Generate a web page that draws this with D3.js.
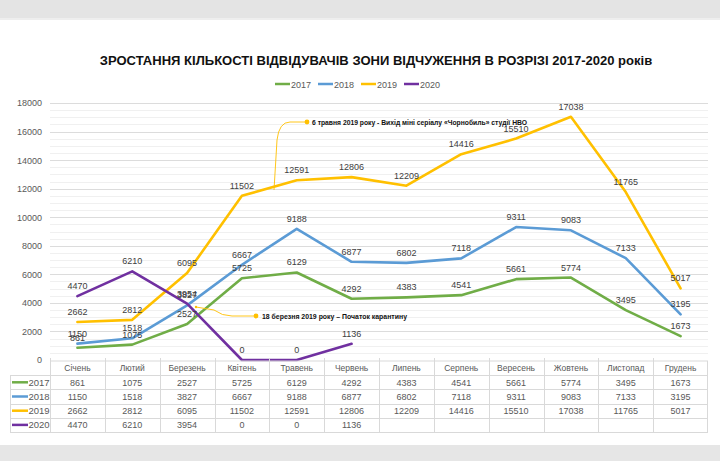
<!DOCTYPE html>
<html><head><meta charset="utf-8">
<script src="https://cdn.jsdelivr.net/npm/d3@7"></script>
<style>
html,body{margin:0;padding:0;background:#fff;}
svg{display:block;}
</style></head>
<body>
<svg id="c" width="720" height="461"></svg>
<script>
const months = ["Січень","Лютий","Березень","Квітень","Травень","Червень","Липень","Серпень","Вересень","Жовтень","Листопад","Грудень"];
const years = ["2017","2018","2019","2020"];
const v2017 = [861,1075,2527,5725,6129,4292,4383,4541,5661,5774,3495,1673];
const v2018 = [1150,1518,3827,6667,9188,6877,6802,7118,9311,9083,7133,3195];
const v2019 = [2662,2812,6095,11502,12591,12806,12209,14416,15510,17038,11765,5017];
const v2020 = [4470,6210,3954,0,0,1136];
const colors = ["#70AD47","#5B9BD5","#FFC000","#7030A0"];
const yTicks = [0,2000,4000,6000,8000,10000,12000,14000,16000,18000];
const title = "ЗРОСТАННЯ КІЛЬКОСТІ ВІДВІДУВАЧІВ ЗОНИ ВІДЧУЖЕННЯ В РОЗРІЗІ 2017-2020 років";
const note1 = "6 травня 2019 року - Вихід міні серіалу «Чорнобиль» студії НВО";
const note2 = "18 березня 2019 року – Початок карантину";

const series = [v2017, v2018, v2019, v2020];
const svg = d3.select("#c");

// background bands
svg.append("rect").attr("x",0).attr("y",0).attr("width",720).attr("height",461).attr("fill","#fff");
svg.append("rect").attr("x",0).attr("y",0).attr("width",720).attr("height",18).attr("fill","#e4e4e4");
svg.append("rect").attr("x",0).attr("y",18).attr("width",720).attr("height",2).attr("fill","#eeeeee");
svg.append("rect").attr("x",0).attr("y",445).attr("width",720).attr("height",16).attr("fill","#e6e6e6");

const x = d3.scaleBand().domain(months).range([50,708]);
const y = d3.scaleLinear().domain([0,18000]).range([360,103]);
const cx = m => x(m) + x.bandwidth()/2;

// title (font size fitted to the reference width)
const tt = svg.append("text").attr("x",376).attr("y",65).attr("text-anchor","middle")
  .attr("font-family","'Liberation Sans Narrow','Arial Narrow','Liberation Sans',sans-serif")
  .attr("font-weight","bold").attr("font-size",15).attr("fill","#111").text(title);
const tw = tt.node().getComputedTextLength();
if (tw > 0) tt.attr("font-size", Math.min(17, 15*553/tw));

// legend
const lg = svg.append("g");
let lx = 275;
years.forEach((yr,i)=>{
  lg.append("line").attr("x1",lx).attr("x2",lx+15).attr("y1",84).attr("y2",84).attr("stroke",colors[i]).attr("stroke-width",2.5);
  lg.append("text").attr("x",lx+16).attr("y",87.5).attr("font-family","'Liberation Sans Narrow','Liberation Sans',sans-serif")
    .attr("font-size",9).attr("fill","#595959").text(yr);
  lx += 43;
});

// grid
const minor = d3.range(500,18000,500).filter(v=>v%2000!==0);
svg.append("g").selectAll("line").data(minor).join("line")
  .attr("x1",50).attr("x2",708).attr("y1",d=>Math.round(y(d))+0.5).attr("y2",d=>Math.round(y(d))+0.5)
  .attr("stroke","#f0f0f0").attr("stroke-width",1);
svg.append("g").selectAll("line").data(yTicks.filter(v=>v>0)).join("line")
  .attr("x1",50).attr("x2",708).attr("y1",d=>Math.round(y(d))+0.5).attr("y2",d=>Math.round(y(d))+0.5)
  .attr("stroke","#dcdcdc").attr("stroke-width",1);

// y axis
const yAxis = d3.axisLeft(y).tickValues(yTicks).tickSize(0).tickPadding(0).tickFormat(d3.format("d"));
const ya = svg.append("g").attr("transform","translate(42,0)").call(yAxis);
ya.select(".domain").remove();
ya.selectAll("text").attr("font-family","'Liberation Sans',Arial,sans-serif").attr("font-size",9).attr("fill","#595959");

// lines
const line = d3.line().x((d,i)=>cx(months[i])).y(d=>y(d));
series.forEach((s,i)=>{
  svg.append("path").datum(s).attr("d",line).attr("fill","none")
    .attr("stroke",colors[i]).attr("stroke-width",2.6).attr("stroke-linejoin","round").attr("stroke-linecap","round");
});

// annotations
const ann = svg.append("g");
ann.append("path").attr("d","M307,122 L290,122 Q279,122 277,140 L274,190").attr("fill","none").attr("stroke","#FFC000").attr("stroke-width",0.9);
ann.append("circle").attr("cx",307).attr("cy",122).attr("r",2.4).attr("fill","#FFC000");
ann.append("text").attr("x",312).attr("y",124.5).attr("font-family","'Liberation Sans',Arial,sans-serif")
  .attr("font-weight","bold").attr("font-size",7).attr("fill","#111")
  .attr("textLength",215).attr("lengthAdjust","spacingAndGlyphs").text(note1);
ann.append("path").attr("d","M256,316 L232,316 Q222,316 214,310 L196,307").attr("fill","none").attr("stroke","#FFC000").attr("stroke-width",0.9);
ann.append("circle").attr("cx",256).attr("cy",316).attr("r",2.4).attr("fill","#FFC000");
ann.append("circle").attr("cx",196).attr("cy",307).attr("r",1.2).attr("fill","#FFC000");
ann.append("text").attr("x",262).attr("y",318.5).attr("font-family","'Liberation Sans',Arial,sans-serif")
  .attr("font-weight","bold").attr("font-size",7).attr("fill","#111")
  .attr("textLength",145).attr("lengthAdjust","spacingAndGlyphs").text(note2);

// data labels
series.forEach((s,i)=>{
  svg.append("g").selectAll("text").data(s).join("text")
    .attr("x",(d,j)=>cx(months[j])).attr("y",d=>y(d)-7)
    .attr("text-anchor","middle").attr("font-family","'Liberation Sans',Arial,sans-serif")
    .attr("font-size",9).attr("fill","#404040").text(d=>d);
});

// table
const rowTop = 361, rowH = 14.2;
const tb = svg.append("g");
const bc = "#d9d9d9";
tb.append("line").attr("x1",50).attr("x2",708).attr("y1",rowTop).attr("y2",rowTop).attr("stroke",bc);
for(let r=1;r<=5;r++){
  const yy = Math.round(rowTop + r*rowH)+0.5;
  tb.append("line").attr("x1",10).attr("x2",708).attr("y1",yy).attr("y2",yy).attr("stroke",bc);
}
tb.append("line").attr("x1",10.5).attr("x2",10.5).attr("y1",rowTop+rowH).attr("y2",rowTop+5*rowH).attr("stroke",bc);
months.forEach((m,i)=>{
  const xx = Math.round(x(m))+0.5;
  tb.append("line").attr("x1",xx).attr("x2",xx).attr("y1",rowTop-3).attr("y2",rowTop+5*rowH).attr("stroke",bc);
});
tb.append("line").attr("x1",707.5).attr("x2",707.5).attr("y1",rowTop).attr("y2",rowTop+5*rowH).attr("stroke",bc);
tb.selectAll("text.h").data(months).join("text").attr("class","h")
  .attr("x",d=>cx(d)).attr("y",rowTop+rowH/2+3.2).attr("text-anchor","middle")
  .attr("font-family","'Liberation Sans',Arial,sans-serif").attr("font-size",8.5).attr("fill","#595959").text(d=>d);
series.forEach((s,i)=>{
  const ry = rowTop + (i+1)*rowH;
  tb.append("line").attr("x1",12).attr("x2",28).attr("y1",ry+rowH/2).attr("y2",ry+rowH/2).attr("stroke",colors[i]).attr("stroke-width",2.5);
  tb.append("text").attr("x",28.5).attr("y",ry+rowH/2+3.5).attr("font-family","'Liberation Sans',Arial,sans-serif")
    .attr("font-size",9.5).attr("fill","#595959").text(years[i]);
  tb.append("g").selectAll("text").data(s).join("text")
    .attr("x",(d,j)=>cx(months[j])).attr("y",ry+rowH/2+3.2).attr("text-anchor","middle")
    .attr("font-family","'Liberation Sans',Arial,sans-serif").attr("font-size",9).attr("fill","#595959").text(d=>d);
});
</script>
</body></html>
